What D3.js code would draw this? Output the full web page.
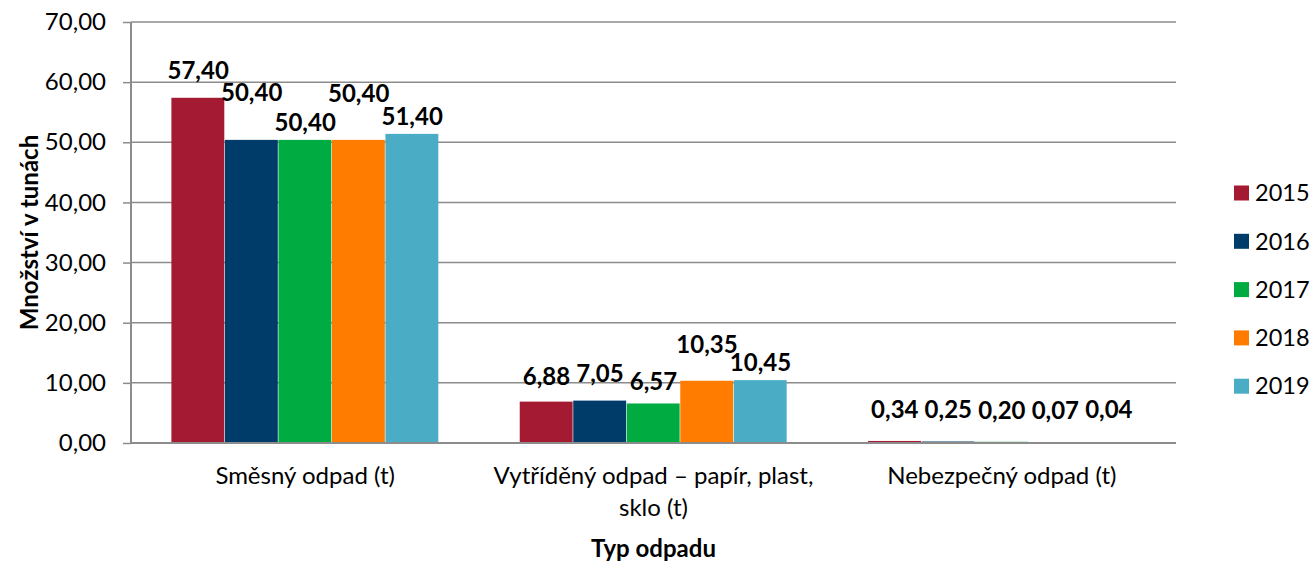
<!DOCTYPE html>
<html>
<head>
<meta charset="utf-8">
<script src="https://cdn.jsdelivr.net/npm/d3@7"></script>
<style>
  html, body { margin: 0; padding: 0; background: #fff; }
  svg { display: block; font-family: Lato, "Open Sans", sans-serif; }
</style>
</head>
<body>
<svg id="chart" width="1311" height="563"></svg>
<script>
// Waste quantities per type and year (tonnes)
const categories = ["Směsný odpad (t)", "Vytříděný odpad – papír, plast,\nsklo (t)", "Nebezpečný odpad (t)"];
const years = ["2015", "2016", "2017", "2018", "2019"];
const values2015 = [57.40, 6.88, 0.34];
const values2016 = [50.40, 7.05, 0.25];
const values2017 = [50.40, 6.57, 0.20];
const values2018 = [50.40, 10.35, 0.07];
const values2019 = [51.40, 10.45, 0.04];
const yTicks = [0, 10, 20, 30, 40, 50, 60, 70];
const colors = ["#A51A33", "#003C69", "#00AC42", "#FF7C00", "#4BACC6"];

// extra lift (px) for value labels that would otherwise collide
const labelLift = [
  [10, 30, 0, 29, 0],
  [8, 10, 4, 19, 0],
  [14, 14, 14, 15, 16]
];

const series = [values2015, values2016, values2017, values2018, values2019];
const fmt = v => d3.format(".2f")(v).replace(".", ",");

const svg = d3.select("#chart");
const margin = { left: 131, right: 135, top: 22, bottom: 120 };
const W = 1311;
const plotW = W - margin.left - margin.right;
const y0 = 443;
const FS = 24;

const x = d3.scaleBand().domain(categories).range([margin.left, margin.left + plotW]).paddingInner(0).paddingOuter(0);
const xi = d3.scaleBand().domain(years).range([0, x.bandwidth()]).paddingInner(0).paddingOuter(0.755);
const y = d3.scaleLinear().domain([0, 70]).range([y0, margin.top]);

// gridlines
svg.append("g")
  .selectAll("line").data(yTicks.filter(t => t > 0)).join("line")
  .attr("x1", margin.left).attr("x2", margin.left + plotW)
  .attr("y1", d => y(d)).attr("y2", d => y(d))
  .attr("stroke", "#8c8c8c").attr("stroke-width", 1.5);

// bars and value labels
const groups = svg.append("g").selectAll("g").data(categories).join("g")
  .attr("transform", d => `translate(${x(d)},0)`);

groups.each(function (cat, ci) {
  const g = d3.select(this);
  years.forEach((yr, si) => {
    const v = series[si][ci];
    g.append("rect")
      .attr("x", xi(yr)).attr("width", xi.bandwidth() - 0.6)
      .attr("y", y(v)).attr("height", y0 - y(v))
      .attr("fill", colors[si]);
  });
  years.forEach((yr, si) => {
    const v = series[si][ci];
    g.append("text")
      .attr("x", xi(yr) + xi.bandwidth() / 2)
      .attr("y", y(v) - 9 - labelLift[ci][si])
      .attr("text-anchor", "middle")
      .attr("font-size", 24).attr("font-weight", "bold").attr("fill", "#000")
      .text(fmt(v));
  });
});

// y axis
const yAxis = svg.append("g").attr("transform", `translate(${margin.left},0)`)
  .call(d3.axisLeft(y).tickValues(yTicks).tickSize(8).tickPadding(17).tickFormat(fmt));
yAxis.select(".domain").attr("stroke", "#8c8c8c").attr("stroke-width", 2).attr("d", `M0,${margin.top}V${y0}`);
yAxis.selectAll(".tick line").attr("stroke", "#8c8c8c").attr("stroke-width", 1.5);
yAxis.selectAll(".tick text").attr("font-size", FS).attr("fill", "#000").attr("font-family", "Lato, sans-serif");

// x axis baseline
svg.append("line")
  .attr("x1", margin.left).attr("x2", margin.left + plotW)
  .attr("y1", y0).attr("y2", y0)
  .attr("stroke", "#8c8c8c").attr("stroke-width", 2);

// category labels
svg.append("g").selectAll("text").data(categories).join("text")
  .attr("x", d => x(d) + x.bandwidth() / 2)
  .attr("y", 484)
  .attr("text-anchor", "middle")
  .attr("font-size", FS).attr("fill", "#000")
  .each(function (d) {
    const t = d3.select(this);
    d.split("\n").forEach((line, i) => {
      t.append("tspan").attr("x", x(d) + x.bandwidth() / 2).attr("dy", i === 0 ? 0 : 32).text(line);
    });
  });

// axis titles
svg.append("text")
  .attr("x", x(categories[1]) + x.bandwidth() / 2).attr("y", 557)
  .attr("text-anchor", "middle").attr("font-size", 24).attr("font-weight", "bold")
  .text("Typ odpadu");

svg.append("text")
  .attr("transform", `translate(38,${(margin.top + y0) / 2}) rotate(-90)`)
  .attr("text-anchor", "middle").attr("font-size", 24).attr("font-weight", "bold")
  .text("Množství v tunách");

// legend
const legend = svg.append("g").selectAll("g").data(years).join("g")
  .attr("transform", (d, i) => `translate(1234,${193 + i * 48.3})`);
legend.append("rect").attr("x", 0).attr("y", -7.5).attr("width", 15).attr("height", 15)
  .attr("fill", (d, i) => colors[i]);
legend.append("text").attr("x", 21).attr("y", 0).attr("dy", "0.35em")
  .attr("font-size", 23.5).attr("fill", "#000").text(d => d);
</script>
</body>
</html>
